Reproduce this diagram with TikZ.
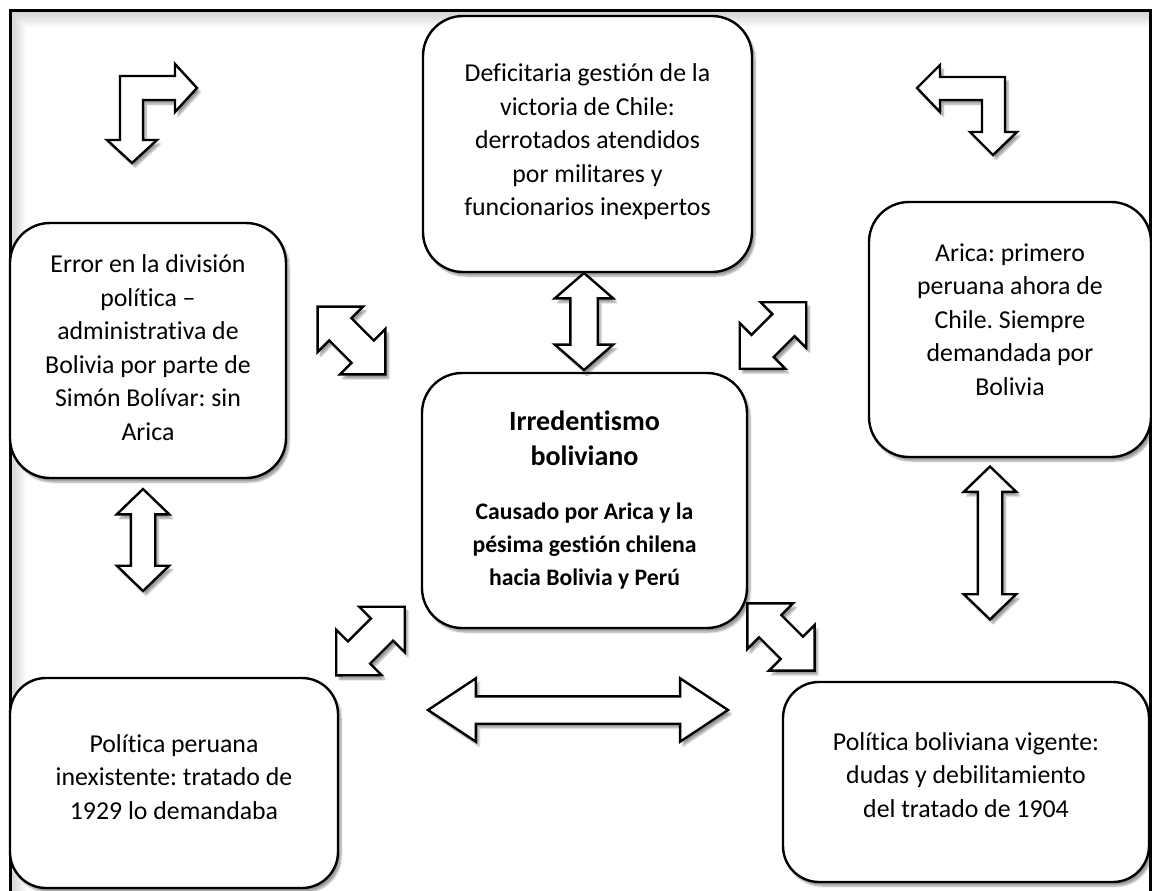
\documentclass[tikz,border=0pt]{standalone}
\usepackage{fontspec}
\setmainfont{Carlito}[Ligatures=NoCommon]
\frenchspacing
\usetikzlibrary{shapes.arrows,shadows.blur}
\newcommand{\boxlines}[3]{\vbox{\hsize=#1\centering #3\par\vskip#2}}
\tikzset{
  soft shadow/.style={
    blur shadow={shadow xshift=3pt, shadow yshift=-4pt, shadow blur steps=6},
  },
  idea box/.style={
    draw, line width=2.4pt, fill=white,
    rounded corners=40pt, inner sep=0pt,
    font=\fontsize{25.8}{33.5}\selectfont,
    soft shadow,
  },
  link arrow/.style={
    double arrow, draw, fill=white,
    line width=2.4pt, inner xsep=0pt,
    soft shadow,
  },
  bent arrow/.style={
    draw, fill=white, line width=2.4pt,
    soft shadow,
  },
}

\begin{document}
\begin{tikzpicture}[x=1pt,y=-1pt]
  \useasboundingbox (0,0) rectangle (1152,891);
  \begin{scope}
    \clip (10,11) rectangle (1150,895);
    \foreach \w in {4,8,...,32}
      \draw[black, opacity=0.025, line width=\w pt] (10,895) -- (10,11) -- (1150,11);
  \end{scope}
  \draw[line width=3pt] (10,895) -- (10,11) -- (1150,11) -- (1150,895);

  % boxes
  \node[idea box, minimum width=329pt, minimum height=256pt] (gestion) at (587.5,144)
    {\boxlines{310pt}{4pt}{Deficitaria gestión de la\\victoria de Chile:\\derrotados atendidos\\por militares y\\funcionarios inexpertos}};
  \node[idea box, minimum width=276pt, minimum height=255pt] (error) at (148,350.5)
    {\boxlines{262pt}{6pt}{Error en la división\\política –\\administrativa de\\Bolivia por parte de\\Simón Bolívar: sin\\Arica}};
  \node[idea box, minimum width=282pt, minimum height=255pt] (arica) at (1010,329.5)
    {\boxlines{266pt}{20pt}{Arica: primero\\peruana ahora de\\Chile. Siempre\\demandada por\\Bolivia}};
  \node[idea box, minimum width=325pt, minimum height=255pt] (centro) at (584.5,500.5)
    {\boxlines{305pt}{0pt}{{\fontsize{28}{35}\selectfont\bfseries Irredentismo\\boliviano\par}\vskip21pt
     {\fontsize{23.7}{33}\selectfont\bfseries Causado por Arica y la\\pésima gestión chilena\\hacia Bolivia y Perú\par}}};
  \node[idea box, minimum width=328pt, minimum height=210pt, rounded corners=36pt] (peruana) at (174,783)
    {\boxlines{310pt}{12pt}{Política peruana\\inexistente: tratado de\\1929 lo demandaba}};
  \node[idea box, minimum width=366pt, minimum height=200pt, rounded corners=36pt] (boliviana) at (966,782)
    {\boxlines{346pt}{14pt}{Política boliviana vigente:\\dudas y debilitamiento\\del tratado de 1904}};

  % arrows between the boxes
  \node[link arrow, rotate=90, minimum height=97pt, inner ysep=12.5pt,
        double arrow head extend=15.5pt, double arrow tip angle=98] (gestion-centro) at (584,321.5) {};
  \node[link arrow, rotate=-45, minimum height=96pt, inner ysep=14.5pt,
        double arrow head extend=16.5pt, double arrow tip angle=90] (error-centro) at (351.5,340.5) {};
  \node[link arrow, rotate=45, minimum height=94pt, inner ysep=14.5pt,
        double arrow head extend=16.5pt, double arrow tip angle=90] (arica-centro) at (773,335.5) {};
  \node[link arrow, rotate=45, minimum height=97pt, inner ysep=14.5pt,
        double arrow head extend=16.5pt, double arrow tip angle=90] (peruana-centro) at (370.5,641) {};
  \node[link arrow, rotate=-45, minimum height=95pt, inner ysep=14.5pt,
        double arrow head extend=16.5pt, double arrow tip angle=90] (boliviana-centro) at (781,637) {};
  \node[link arrow, rotate=90, minimum height=102pt, inner ysep=11pt,
        double arrow head extend=14pt, double arrow tip angle=92] (error-peruana) at (143,540) {};
  \node[link arrow, rotate=90, minimum height=153pt, inner ysep=11pt,
        double arrow head extend=14pt, double arrow tip angle=92] (arica-boliviana) at (990,543) {};
  \node[link arrow, minimum height=300pt, inner ysep=12.5pt,
        double arrow head extend=18pt, double arrow tip angle=67] (peruana-boliviana) at (578,710) {};

  % bent arrows in the top corners
  \draw[bent arrow] (120,76) -- (175,76) -- (175,64) -- (197,88) -- (175,112) -- (175,100)
    -- (143,100) -- (143,140) -- (157,140) -- (132,163) -- (107,140) -- (120,140) -- cycle;
  \draw[bent arrow] (1005,77) -- (1005,132) -- (1017,132) -- (993,155) -- (970,132) -- (982,132)
    -- (982,100) -- (940,100) -- (940,112) -- (917,88) -- (940,65) -- (940,77) -- cycle;
\end{tikzpicture}
\end{document}
